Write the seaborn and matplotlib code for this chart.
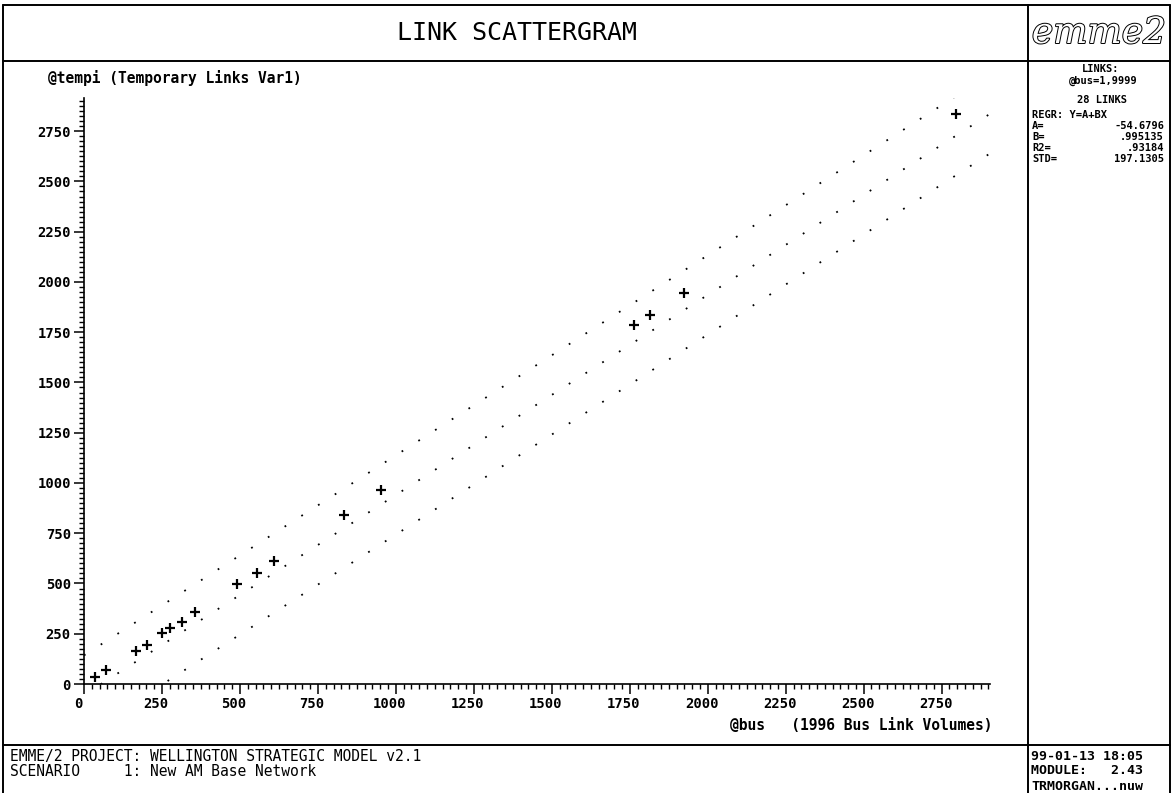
import matplotlib
matplotlib.use("Agg")
import matplotlib.pyplot as plt
import matplotlib.transforms as mtransforms
import matplotlib.patheffects as pe
from matplotlib.lines import Line2D
from matplotlib.ticker import MultipleLocator, FixedLocator
import pandas as pd
import seaborn as sns

# ---------------- data ----------------
bus_volumes = [34, 72, 168, 202, 251, 277, 315, 356, 490, 556, 610,
               834, 953, 1764, 1816, 1924, 2797]
tempi_volumes = [33, 70, 166, 194, 252, 277, 307, 356, 496, 550, 613,
                 840, 965, 1785, 1835, 1943, 2834]
regr_a = -54.6796
regr_b = 0.995135
regr_r2 = 0.93184
regr_std = 197.1305
line_x = [0, 2905]
tick_values = [0, 250, 500, 750, 1000, 1250, 1500, 1750, 2000, 2250, 2500, 2750]
tick_labels = ["0", "250", "500", "750", "1000", "1250", "1500", "1750",
               "2000", "2250", "2500", "2750"]

# ---------------- figure ----------------
sns.set_style("ticks")
plt.rcParams["font.family"] = ["DejaVu Sans Mono", "DejaVu Sans"]
for key in ("text.color", "xtick.color", "ytick.color", "axes.labelcolor",
            "axes.edgecolor"):
    plt.rcParams[key] = "black"

W, H = 1173, 793
fig = plt.figure(figsize=(W / 100, H / 100), dpi=100, facecolor="white")


def fx(px):
    return px / W


def fy(py):
    return 1 - py / H


ax = fig.add_axes([fx(84), fy(684), (990 - 84) / W, (684 - 98) / H])
ax.set_facecolor("white")

df = pd.DataFrame({"bus": bus_volumes, "tempi": tempi_volumes})

# regression line and +/- STD lines (dotted, as in EMME/2)
line_y = [regr_a + regr_b * v for v in line_x]
for off in (regr_std, 0.0, -regr_std):
    ax.plot(line_x, [v + off for v in line_y], color="black",
            linewidth=1.3, linestyle=(0, (1.0, 10.0)),
            dash_capstyle="butt", zorder=2)

sns.scatterplot(data=df, x="bus", y="tempi", marker="+", s=55,
                color="black", linewidth=1.6, ax=ax, zorder=3, legend=False)

ax.set_xlim(0, 2905)
ax.set_ylim(0, 2915)
ax.set_xlabel("")
ax.set_ylabel("")
ax.xaxis.set_major_locator(FixedLocator(tick_values))
ax.yaxis.set_major_locator(FixedLocator(tick_values))
ax.set_xticklabels(tick_labels)
ax.set_yticklabels(tick_labels)
ax.xaxis.set_minor_locator(MultipleLocator(25))
ax.yaxis.set_minor_locator(MultipleLocator(25))
ax.tick_params(axis="both", which="major", direction="out", length=7,
               width=1.1, color="black", labelsize=10, pad=2.5,
               labelcolor="black")
ax.tick_params(axis="both", which="minor", direction="out", length=3.5,
               width=1.0, color="black")
for lab in ax.get_xticklabels() + ax.get_yticklabels():
    lab.set_fontweight("bold")
for s in ("top", "right"):
    ax.spines[s].set_visible(False)
for s in ("left", "bottom"):
    ax.spines[s].set_linewidth(1.2)
    ax.spines[s].set_color("black")

shift = mtransforms.ScaledTranslation(-6 / 100, 0, fig.dpi_scale_trans)
for lab in ax.get_xticklabels():
    lab.set_transform(lab.get_transform() + shift)

# axis titles
fig.text(fx(48), fy(78), "@tempi (Temporary Links Var1)", ha="left",
         va="center", fontsize=10.5, fontweight="bold")
fig.text(fx(993), fy(725), "@bus   (1996 Bus Link Volumes)", ha="right",
         va="center", fontsize=10.5, fontweight="bold")

# ---------------- frame ----------------
frame = [
    ((3, 5), (1170, 5)),
    ((3, 61), (1170, 61)),
    ((3, 745), (1170, 745)),
    ((3, 5), (3, 793)),
    ((1170, 5), (1170, 793)),
    ((1028, 5), (1028, 793)),
]
for (x0, y0), (x1, y1) in frame:
    fig.add_artist(Line2D([fx(x0), fx(x1)], [fy(y0), fy(y1)],
                          color="black", linewidth=1.4))

# title
fig.text(fx(517), fy(33), "LINK SCATTERGRAM", ha="center", va="center",
         fontsize=18, fontweight="light")

# logo
fig.text(fx(1099), fy(33), "emme2", ha="center", va="center", fontsize=26,
         family="DejaVu Serif", style="italic", color="white",
         path_effects=[pe.withStroke(linewidth=1.4, foreground="black")])

# right info panel
bold7 = dict(fontsize=7.5, fontweight="bold", va="center")
fig.text(fx(1101), fy(69), "LINKS:", ha="center", **bold7)
fig.text(fx(1103), fy(81), "@bus=1,9999", ha="center", **bold7)
fig.text(fx(1102), fy(100), "28 LINKS", ha="center", **bold7)
fig.text(fx(1032), fy(115), "REGR: Y=A+BX", ha="left", **bold7)
panel_rows = [("A=", "-54.6796", 126), ("B=", ".995135", 137),
              ("R2=", ".93184", 148), ("STD=", "197.1305", 159)]
for lab, val, yy in panel_rows:
    fig.text(fx(1032), fy(yy), lab, ha="left", **bold7)
    fig.text(fx(1164), fy(yy), val, ha="right", **bold7)

# bottom bar
fig.text(fx(10), fy(756), "EMME/2 PROJECT: WELLINGTON STRATEGIC MODEL v2.1",
         ha="left", va="center", fontsize=10.5)
fig.text(fx(10), fy(771), "SCENARIO     1: New AM Base Network",
         ha="left", va="center", fontsize=10.5)
fig.text(fx(1031), fy(756), "99-01-13 18:05", ha="left", va="center",
         fontsize=9.5, fontweight="bold")
fig.text(fx(1031), fy(771), "MODULE:   2.43", ha="left", va="center",
         fontsize=9.5, fontweight="bold")
fig.text(fx(1031), fy(786), "TRMORGAN...nuw", ha="left", va="center",
         fontsize=9.5, fontweight="bold")

fig.savefig("out.png", dpi=100, facecolor="white")
